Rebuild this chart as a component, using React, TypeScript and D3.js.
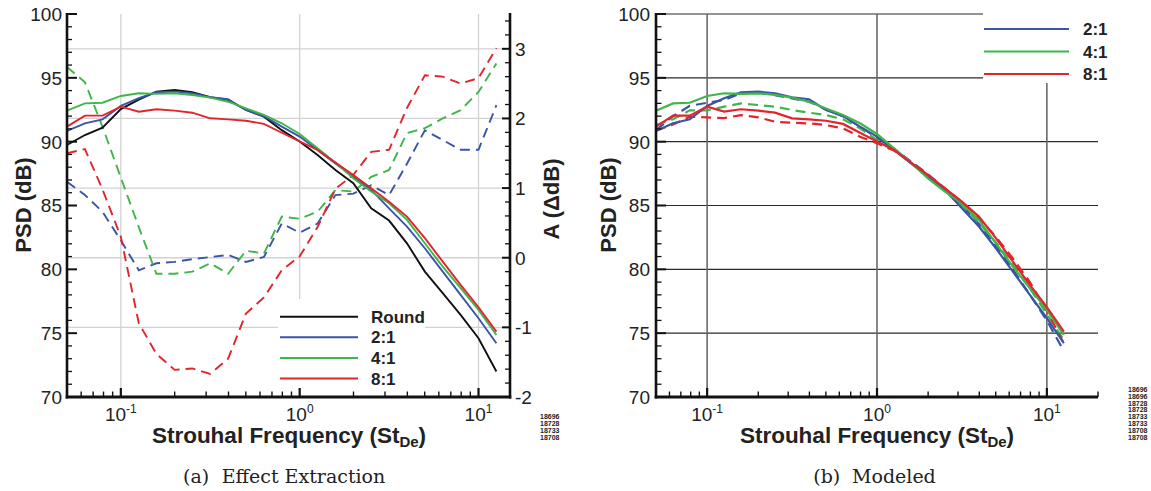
import React from 'react';
import * as d3 from 'd3';

// Strouhal frequencies (1/10-decade bands)
const freqs = [0.05, 0.063, 0.079, 0.1, 0.126, 0.158, 0.2, 0.251, 0.316, 0.398, 0.501, 0.631, 0.794, 1.0, 1.259, 1.585, 1.995, 2.512, 3.162, 3.981, 5.012, 6.31, 7.943, 10.0, 12.59];

// Measured PSD (dB)
const psdRound = [89.74, 90.52, 91.1, 92.55, 93.3, 93.92, 94.05, 93.87, 93.48, 93.27, 92.48, 91.96, 90.9, 90.02, 88.96, 87.78, 86.74, 84.78, 83.82, 82.04, 79.82, 78.13, 76.43, 74.6, 72.0];
const psd21 = [90.84, 91.44, 91.75, 92.8, 93.4, 93.87, 93.92, 93.79, 93.48, 93.32, 92.48, 92.0, 91.18, 90.4, 89.35, 88.3, 87.26, 86.22, 84.78, 83.35, 81.65, 79.82, 78.0, 76.17, 74.21];
const psd41 = [92.43, 93.0, 93.05, 93.58, 93.79, 93.74, 93.79, 93.66, 93.45, 93.13, 92.6, 92.09, 91.44, 90.6, 89.48, 88.36, 87.13, 86.09, 85.17, 83.87, 82.04, 80.21, 78.52, 76.82, 74.86];
const psd81 = [91.18, 92.04, 92.04, 92.74, 92.35, 92.54, 92.43, 92.27, 91.83, 91.75, 91.64, 91.39, 90.7, 90.02, 89.35, 88.36, 87.39, 86.35, 85.3, 84.13, 82.44, 80.6, 78.78, 77.03, 75.12];

// Extracted effect A (ΔdB)
const amp21 = [1.09, 0.9, 0.66, 0.25, -0.18, -0.08, -0.06, -0.02, 0.01, 0.04, -0.06, 0.01, 0.49, 0.36, 0.49, 0.9, 0.92, 1.04, 0.9, 1.35, 1.83, 1.69, 1.55, 1.55, 2.19];
const amp41 = [2.74, 2.52, 1.88, 1.15, 0.44, -0.23, -0.23, -0.2, -0.08, -0.23, 0.1, 0.06, 0.59, 0.56, 0.66, 0.97, 0.95, 1.16, 1.26, 1.79, 1.86, 2.0, 2.12, 2.38, 2.79];
const amp81 = [1.5, 1.56, 0.98, 0.3, -0.94, -1.38, -1.61, -1.59, -1.67, -1.45, -0.8, -0.57, -0.18, 0.02, 0.44, 0.99, 1.19, 1.52, 1.55, 2.15, 2.62, 2.6, 2.5, 2.58, 3.01];

// Modeled PSD (dB)
const model21 = [90.9, 92.0, 92.8, 93.05, 93.26, 93.78, 93.86, 93.65, 93.39, 93.13, 92.53, 92.0, 91.17, 90.3, 89.45, 88.45, 87.45, 86.3, 85.0, 83.55, 81.85, 80.0, 78.0, 76.0, 73.6];
const model41 = [91.3, 91.75, 92.45, 92.45, 92.74, 93.0, 92.87, 92.74, 92.48, 92.27, 92.08, 91.75, 91.04, 90.13, 89.35, 88.35, 87.3, 86.2, 85.0, 83.65, 82.1, 80.35, 78.5, 76.5, 74.45];
const model81 = [90.85, 91.35, 91.95, 91.9, 91.85, 92.08, 91.9, 91.56, 91.48, 91.43, 91.3, 91.04, 90.39, 89.87, 89.3, 88.4, 87.4, 86.35, 85.25, 84.0, 82.55, 80.85, 79.0, 76.75, 74.2];

const psdTicks = [70, 75, 80, 85, 90, 95, 100];
const ampTicks = [-2, -1, 0, 1, 2, 3];
const decadeExps = [-1, 0, 1];
const legendLeft = ['Round', '2:1', '4:1', '8:1'];
const legendRight = ['2:1', '4:1', '8:1'];
const stampLeft = ['18696', '18728', '18733', '18708'];
const stampRight = ['18696', '18696', '18728', '18728', '18733', '18733', '18708', '18708'];

const C_BLACK = '#111111';
const C_BLUE = '#3b55a6';
const C_GREEN = '#3fb54a';
const C_RED = '#e2242c';
const SANS = "'Liberation Sans', Arial, Helvetica, sans-serif";
const SERIF = "'DejaVu Serif', serif";
const DASH = '10,6';

const xL = d3.scaleLog().domain([0.05, 15]).range([67, 510]);
const yL = d3.scaleLinear().domain([70, 100]).range([397, 14]);
const yA = d3.scaleLinear().domain([-2, 3.5]).range([397, 14]);
const xR = d3.scaleLog().domain([0.05, 20]).range([656, 1098]);
const yR = d3.scaleLinear().domain([70, 100]).range([397, 14]);

function mkLine(x: any, y: any) {
  return d3.line<number>().x((_, i) => x(freqs[i])).y((d) => y(d));
}

function isDecade(v: number) {
  const l = Math.log10(v);
  return Math.abs(l - Math.round(l)) < 1e-6;
}

export default function App() {
  const lineL = mkLine(xL, yL);
  const lineA = mkLine(xL, yA);
  const lineR = mkLine(xR, yR);

  const xTicksL = xL.ticks().filter((t: number) => t >= 0.05 && t <= 15);
  const xTicksR = xR.ticks().filter((t: number) => t >= 0.05 && t <= 20);
  const psdMinor = d3.range(70, 101, 1);
  const ampMinor = d3.range(0, 28).map((i) => -2 + i * 0.2);

  const leftSolid = [
    { d: psdRound, c: C_BLACK },
    { d: psd21, c: C_BLUE },
    { d: psd41, c: C_GREEN },
    { d: psd81, c: C_RED },
  ];
  const leftDashed = [
    { d: amp21, c: C_BLUE },
    { d: amp41, c: C_GREEN },
    { d: amp81, c: C_RED },
  ];
  const rightSolid = [
    { d: psd21, c: C_BLUE },
    { d: psd41, c: C_GREEN },
    { d: psd81, c: C_RED },
  ];
  const rightDashed = [
    { d: model21, c: C_BLUE },
    { d: model41, c: C_GREEN },
    { d: model81, c: C_RED },
  ];
  const legColorsL = [C_BLACK, C_BLUE, C_GREEN, C_RED];
  const legColorsR = [C_BLUE, C_GREEN, C_RED];

  const [l0, l1] = xL.range();
  const [r0, r1] = xR.range();
  const yBot = yL(70);
  const yTop = yL(100);

  const expLabel = (x: number, e: number, key: string) => (
    <text key={key} x={x} y={421} textAnchor="middle" fontFamily={SANS} fontSize={19} fill="#222">
      10<tspan dy={-8} fontSize={12}>{String(e)}</tspan>
    </text>
  );

  return (
    <svg width={1151} height={491} style={{ position: 'absolute', left: 0, top: 0, background: '#fff' }}>
      <rect x={0} y={0} width={1151} height={491} fill="#fff" />

      {/* ================= LEFT PANEL ================= */}
      <g>
        {/* grid */}
        {ampTicks.filter((t) => t > -2).map((t) => (
          <line key={'ga' + t} x1={l0} x2={l1} y1={yA(t)} y2={yA(t)} stroke="#d2d2d2" strokeWidth={1.3} />
        ))}
        {decadeExps.map((e) => (
          <line key={'gx' + e} x1={xL(Math.pow(10, e))} x2={xL(Math.pow(10, e))} y1={yTop} y2={yBot} stroke="#d2d2d2" strokeWidth={1.3} />
        ))}
        {/* legend background */}
        <rect x={278} y={299} width={147} height={yBot - 299} fill="#fff" />

        {/* curves */}
        {leftDashed.map((s, i) => (
          <path key={'ld' + i} d={lineA(s.d) || ''} fill="none" stroke={s.c} strokeWidth={1.9} strokeDasharray={DASH} />
        ))}
        {leftSolid.map((s, i) => (
          <path key={'ls' + i} d={lineL(s.d) || ''} fill="none" stroke={s.c} strokeWidth={1.9} />
        ))}

        {/* left axis */}
        <line x1={l0} x2={l0} y1={yTop - 1} y2={yBot + 1.5} stroke="#111" strokeWidth={2.6} />
        {psdMinor.map((v) => (
          <line key={'lym' + v} x1={l0} x2={l0 + (v % 5 === 0 ? 10 : 5)} y1={yL(v)} y2={yL(v)} stroke="#111" strokeWidth={v % 5 === 0 ? 2 : 1.3} />
        ))}
        {psdTicks.map((v) => (
          <text key={'lyl' + v} x={l0 - 5} y={yL(v)} dy="0.36em" textAnchor="end" fontFamily={SANS} fontSize={19} fill="#222">{v}</text>
        ))}
        {/* right axis */}
        <line x1={l1} x2={l1} y1={yTop - 1} y2={yBot + 1.5} stroke="#111" strokeWidth={2.6} />
        {ampMinor.map((v, i) => (
          <line key={'ram' + i} x1={l1} x2={l1 - (i % 5 === 0 ? 8 : 5)} y1={yA(v)} y2={yA(v)} stroke="#111" strokeWidth={i % 5 === 0 ? 2 : 1.3} />
        ))}
        {ampTicks.map((v) => (
          <text key={'ral' + v} x={l1 + 5} y={yA(v)} dy="0.36em" textAnchor="start" fontFamily={SANS} fontSize={19} fill="#222">{String(v)}</text>
        ))}
        {/* bottom axis */}
        <line x1={l0 - 1.3} x2={l1 + 1.3} y1={yBot} y2={yBot} stroke="#111" strokeWidth={3} />
        {xTicksL.map((t: number, i: number) => (
          <line key={'lxt' + i} x1={xL(t)} x2={xL(t)} y1={yBot} y2={yBot - (isDecade(t) ? 9 : 5.5)} stroke="#111" strokeWidth={isDecade(t) ? 2.2 : 1.4} />
        ))}
        {decadeExps.map((e) => expLabel(xL(Math.pow(10, e)), e, 'lxl' + e))}

        {/* titles */}
        <text x={289} y={443} textAnchor="middle" fontFamily={SANS} fontWeight="bold" fontSize={22.5} fill="#222">
          Strouhal Frequency (St<tspan fontSize={15} dy={4}>De</tspan><tspan dy={-4}>)</tspan>
        </text>
        <text transform="translate(23,205) rotate(-90)" textAnchor="middle" dy="0.36em" fontFamily={SANS} fontWeight="bold" fontSize={22} fill="#222">PSD (dB)</text>
        <text transform="translate(551,199) rotate(-90)" textAnchor="middle" dy="0.36em" fontFamily={SANS} fontWeight="bold" fontSize={22} fill="#222">A (ΔdB)</text>

        {/* legend */}
        {legendLeft.map((name, i) => {
          const y = 316.7 + i * 20.6;
          return (
            <g key={'ll' + name}>
              <line x1={280} x2={358} y1={y} y2={y} stroke={legColorsL[i]} strokeWidth={2} />
              <text x={371} y={y} dy="0.36em" fontFamily={SANS} fontWeight="bold" fontSize={17} fill="#222">{name}</text>
            </g>
          );
        })}

        {/* stamps */}
        {stampLeft.map((s, i) => (
          <text key={'sl' + i} x={540} y={416.7 + i * 6.9} dy="0.36em" fontFamily={SANS} fontWeight="bold" fontSize={7} fill="#222">{s}</text>
        ))}

        <text x={183} y={483} fontFamily={SERIF} fontSize={19} fill="#222">(a)</text>
        <text x={221.7} y={483} fontFamily={SERIF} fontSize={19} fill="#222">Effect Extraction</text>
      </g>

      {/* ================= RIGHT PANEL ================= */}
      <g>
        {psdTicks.filter((v) => v > 70).map((v) => (
          <line key={'rgy' + v} x1={r0} x2={r1} y1={yR(v)} y2={yR(v)} stroke="#2a2a2a" strokeWidth={1.2} />
        ))}
        {decadeExps.map((e) => (
          <line key={'rgx' + e} x1={xR(Math.pow(10, e))} x2={xR(Math.pow(10, e))} y1={yTop} y2={yBot} stroke="#6a6a6a" strokeWidth={1.6} />
        ))}
        <rect x={983} y={0} width={120} height={83} fill="#fff" />

        {rightDashed.map((s, i) => (
          <path key={'rd' + i} d={lineR(s.d) || ''} fill="none" stroke={s.c} strokeWidth={2.2} strokeDasharray={DASH} />
        ))}
        {rightSolid.map((s, i) => (
          <path key={'rs' + i} d={lineR(s.d) || ''} fill="none" stroke={s.c} strokeWidth={2.2} />
        ))}

        <line x1={r0} x2={r0} y1={yTop - 1} y2={yBot + 1.5} stroke="#111" strokeWidth={2.6} />
        {psdMinor.map((v) => (
          <line key={'rym' + v} x1={r0} x2={r0 + (v % 5 === 0 ? 10 : 5.5)} y1={yR(v)} y2={yR(v)} stroke="#111" strokeWidth={v % 5 === 0 ? 2 : 1.3} />
        ))}
        {psdTicks.map((v) => (
          <text key={'ryl' + v} x={r0 - 6} y={yR(v)} dy="0.36em" textAnchor="end" fontFamily={SANS} fontSize={19} fill="#222">{v}</text>
        ))}
        <line x1={r0 - 1.3} x2={r1} y1={yBot} y2={yBot} stroke="#111" strokeWidth={3} />
        {xTicksR.map((t: number, i: number) => (
          <line key={'rxt' + i} x1={xR(t)} x2={xR(t)} y1={yBot} y2={yBot - (isDecade(t) ? 9 : 5.5)} stroke="#111" strokeWidth={isDecade(t) ? 2.2 : 1.4} />
        ))}
        {decadeExps.map((e) => expLabel(xR(Math.pow(10, e)), e, 'rxl' + e))}

        <text x={877} y={443} textAnchor="middle" fontFamily={SANS} fontWeight="bold" fontSize={22.5} fill="#222">
          Strouhal Frequency (St<tspan fontSize={15} dy={4}>De</tspan><tspan dy={-4}>)</tspan>
        </text>
        <text transform="translate(608,205) rotate(-90)" textAnchor="middle" dy="0.36em" fontFamily={SANS} fontWeight="bold" fontSize={22} fill="#222">PSD (dB)</text>

        {legendRight.map((name, i) => {
          const y = 29 + i * 22.5;
          return (
            <g key={'rl' + name}>
              <line x1={984} x2={1069} y1={y} y2={y} stroke={legColorsR[i]} strokeWidth={2.2} />
              <text x={1083} y={y} dy="0.36em" fontFamily={SANS} fontWeight="bold" fontSize={17} fill="#222">{name}</text>
            </g>
          );
        })}

        {stampRight.map((s, i) => (
          <text key={'sr' + i} x={1128} y={389.3 + i * 6.86} dy="0.36em" fontFamily={SANS} fontWeight="bold" fontSize={7} fill="#222">{s}</text>
        ))}

        <text x={813.3} y={483} fontFamily={SERIF} fontSize={19} fill="#222">(b)</text>
        <text x={852} y={483} fontFamily={SERIF} fontSize={19} fill="#222">Modeled</text>
      </g>
    </svg>
  );
}
